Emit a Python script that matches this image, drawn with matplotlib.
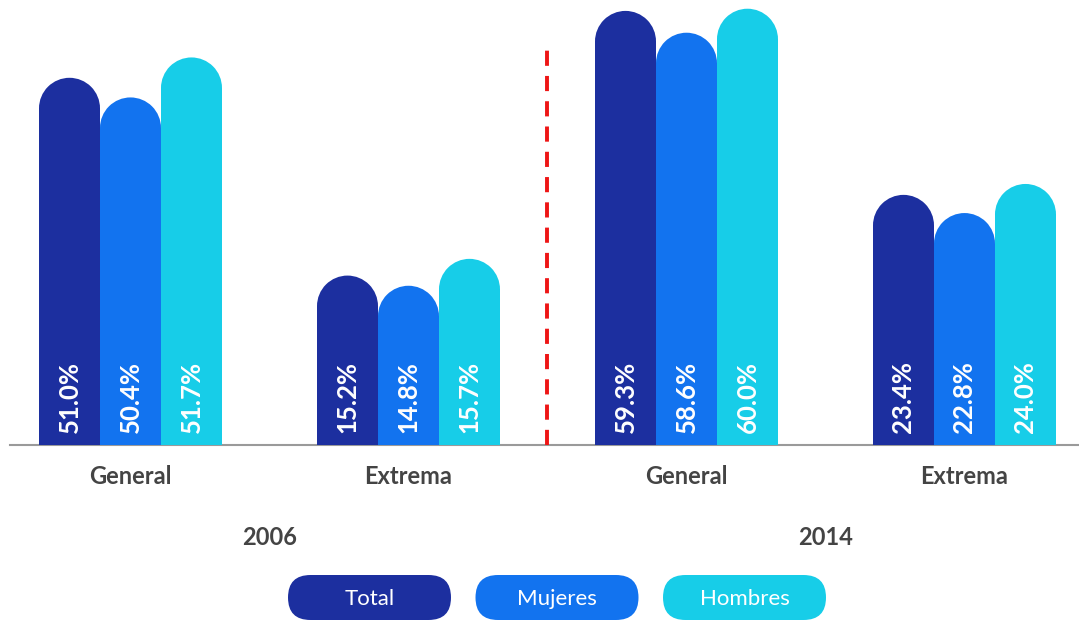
import numpy as np
import matplotlib
matplotlib.use("Agg")
import matplotlib.pyplot as plt
from matplotlib.patches import Ellipse, FancyBboxPatch

plt.rcParams['font.family'] = ['Lato', 'DejaVu Sans']

# categories
groups = ["General", "Extrema", "General", "Extrema"]
years = ["2006", "2014"]
series = ["Total", "Mujeres", "Hombres"]
colors = ["#1c2f9f", "#1273ef", "#17cde8"]

# printed values (%)
total_pct = [51.0, 15.2, 59.3, 23.4]
mujeres_pct = [50.4, 14.8, 58.6, 22.8]
hombres_pct = [51.7, 15.7, 60.0, 24.0]

# bar heights as drawn in the picture (the original is not to scale),
# read off on a scale where the tallest bar = 60
total_h = [50.5, 23.3, 59.7, 34.4]
mujeres_h = [47.8, 21.9, 56.7, 31.9]
hombres_h = [53.3, 25.6, 60.0, 35.9]

W, H = 1079, 622
fig = plt.figure(figsize=(W / 100, H / 100), dpi=100)
fig.patch.set_facecolor("white")

base_px = 177  # baseline height from the bottom, in pixels
ax = fig.add_axes([0, base_px / H, 1, 1 - base_px / H])
ax.set_xlim(-0.4694, 3.4119)
ax.set_ylim(0, 61.2)
ax.axis("off")

x = np.arange(len(groups))
w = 0.2194

# vertical radius of the rounded cap, in data units
fig.canvas.draw()
p0 = ax.transData.transform((0, 0))
p1 = ax.transData.transform((1, 1))
ry = (w / 2) * (p1[0] - p0[0]) / (p1[1] - p0[1])

heights = [total_h, mujeres_h, hombres_h]
values = [total_pct, mujeres_pct, hombres_pct]
for k in range(3):
    xs = x + (k - 1) * w
    hs = np.array(heights[k])
    ax.bar(xs, hs - ry, w, color=colors[k], linewidth=0, zorder=2)
    for xi, hi, v in zip(xs, hs, values[k]):
        ax.add_patch(Ellipse((xi, hi - ry), w, 2 * ry, color=colors[k],
                             linewidth=0, zorder=2))
        ax.text(xi, 1.7, "%.1f%%" % v, rotation=90, ha="center", va="bottom",
                color="white", fontsize=18.5, fontweight="bold", zorder=3)

# baseline and the red divider between years
ax.axhline(0, xmin=10 / W, color="#9a9a9a", lw=1.5, zorder=1, clip_on=False)
ax.vlines(1.5, 0, 55.3, colors="#ee1515", linewidth=2.8,
          linestyles=(0, (3.9, 2.6)), zorder=1)

tr = ax.get_xaxis_transform()
for xi, g in zip(x, groups):
    ax.text(xi, -0.0697, g, transform=tr, ha="center", va="center",
            fontsize=17, fontweight="bold", color="#444444", clip_on=False)
for i, yr in enumerate(years):
    ax.text(2 * i + 0.5, -0.207, yr, transform=tr, ha="center", va="center",
            fontsize=17, fontweight="bold", color="#444444", clip_on=False)

# legend pills
lax = fig.add_axes([0, 0, 1, 1])
lax.set_xlim(0, W)
lax.set_ylim(0, H)
lax.axis("off")
for i, (s, c) in enumerate(zip(series, colors)):
    x0 = 288 + i * 187.5
    lax.add_patch(FancyBboxPatch((x0, 2), 163, 45,
                                 boxstyle="round,pad=0,rounding_size=22.5",
                                 facecolor=c, edgecolor="none"))
    lax.text(x0 + 81.5, 23, s, ha="center", va="center", color="white",
             fontsize=16)

fig.savefig("out.png", dpi=100, facecolor="white")
